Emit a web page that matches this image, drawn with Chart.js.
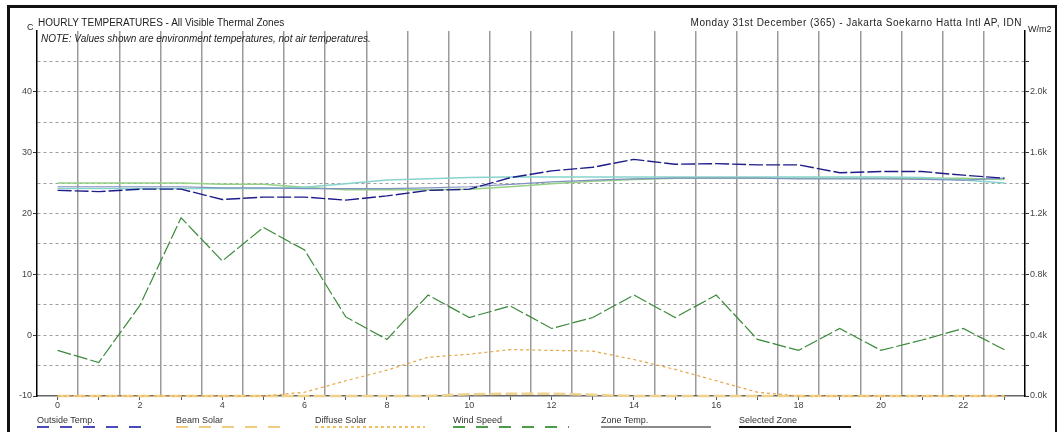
<!DOCTYPE html>
<html>
<head>
<meta charset="utf-8">
<script src="https://cdn.jsdelivr.net/npm/chart.js@4.4.1/dist/chart.umd.min.js"></script>
<style>
  html, body { margin: 0; padding: 0; background: #fff; }
  #wrap { position: relative; width: 1062px; height: 432px; overflow: hidden; font-family: "Liberation Sans", Arial, sans-serif; }
  #chart { position: absolute; left: 0; top: 0; }
  .frame { position: absolute; left: 7px; top: 5px; width: 1050px; height: 460px; box-sizing: border-box;
           border-left: 3px solid #111; border-top: 3px solid #111; border-right: 2px solid #111; }
  .t { position: absolute; white-space: nowrap; color: #222; }
  #titleL { left: 38px; top: 17px; font-size: 10px; line-height: 12px; }
  #titleR { right: 40px; top: 17px; font-size: 10px; line-height: 12px; letter-spacing: 0.5px; }
  #unitL { left: 27px; top: 22px; font-size: 9px; line-height: 11px; }
  #unitR { left: 1028px; top: 24px; font-size: 9px; line-height: 11px; }
  #note { left: 41px; top: 33px; font-size: 10px; line-height: 12px; font-style: italic; }
  .lg { position: absolute; top: 415px; font-size: 9px; line-height: 11px; color: #333; white-space: nowrap; }
  .lgline { position: absolute; top: 426px; height: 2px; }
</style>
</head>
<body>
<div id="wrap">
  <canvas id="chart" width="1062" height="432"></canvas>
  <div class="frame"></div>
  <div class="t" id="unitL">C</div>
  <div class="t" id="titleL">HOURLY TEMPERATURES - All Visible Thermal Zones</div>
  <div class="t" id="titleR">Monday 31st December (365) - Jakarta Soekarno Hatta Intl AP, IDN</div>
  <div class="t" id="unitR">W/m2</div>
  <div class="t" id="note">NOTE: Values shown are environment temperatures, not air temperatures.</div>
  <div id="legend"></div>
</div>
<script>
// Stundenwerte, 31. Dezember
const hours = [0, 1, 2, 3, 4, 5, 6, 7, 8, 9, 10, 11, 12, 13, 14, 15, 16, 17, 18, 19, 20, 21, 22, 23];
const gridHours = [0.5, 1.5, 2.5, 3.5, 4.5, 5.5, 6.5, 7.5, 8.5, 9.5, 10.5, 11.5, 12.5, 13.5, 14.5, 15.5, 16.5, 17.5, 18.5, 19.5, 20.5, 21.5, 22.5];

// Temperaturen (C)
const outsideTemp = [23.8, 23.6, 24.0, 24.0, 22.3, 22.7, 22.7, 22.2, 22.9, 23.8, 24.0, 25.9, 27.0, 27.6, 28.9, 28.1, 28.2, 28.0, 28.0, 26.7, 26.9, 26.9, 26.3, 25.8];
const zoneTempA = [25.0, 25.0, 25.0, 25.0, 24.8, 24.8, 24.3, 23.9, 23.9, 23.9, 24.0, 24.4, 24.9, 25.3, 25.6, 25.8, 25.8, 25.8, 25.8, 25.8, 25.8, 25.8, 25.8, 25.6];
const zoneTempB = [24.1, 24.1, 24.1, 24.1, 24.1, 24.1, 24.3, 24.9, 25.5, 25.7, 25.9, 26.0, 26.0, 26.0, 26.0, 26.0, 26.0, 26.0, 26.0, 26.0, 26.0, 25.9, 25.5, 25.0];
const zoneTempC = [24.4, 24.4, 24.4, 24.4, 24.2, 24.2, 24.1, 24.1, 24.1, 24.2, 24.4, 24.8, 25.2, 25.5, 25.7, 25.8, 25.8, 25.8, 25.7, 25.7, 25.7, 25.6, 25.5, 25.8];
const windSpeed = [-2.5, -4.5, 4.9, 19.3, 12.2, 17.7, 14.0, 3.0, -0.7, 6.6, 2.9, 4.8, 1.1, 2.9, 6.6, 2.9, 6.6, -0.7, -2.5, 1.1, -2.5, -0.8, 1.1, -2.4];

// Strahlung (W/m2)
const beamSolar = [0, 0, 0, 0, 0, 0, 0, 0, 0, 0, 12, 15, 15, 8, 0, 0, 0, 0, 0, 0, 0, 0, 0, 0];
const diffuseSolar = [0, 0, 0, 0, 0, 0, 25, 100, 170, 255, 275, 305, 300, 295, 240, 175, 100, 25, 0, 0, 0, 0, 0, 0];

// Achsen
const tempTicks = [-10, 0, 10, 20, 30, 40];
const solarTicks = [0, 400, 800, 1200, 1600, 2000];
const xLabelHours = [0, 2, 4, 6, 8, 10, 12, 14, 16, 18, 20, 22];

const legendItems = [
  { label: "Outside Temp.", left: 37, width: 108, bg: "repeating-linear-gradient(90deg,#4a4ab8 0 12px,transparent 12px 23px)" },
  { label: "Beam Solar", left: 176, width: 108, bg: "repeating-linear-gradient(90deg,#f0cc80 0 12px,transparent 12px 23px)" },
  { label: "Diffuse Solar", left: 315, width: 110, bg: "repeating-linear-gradient(90deg,#f0c060 0 3px,transparent 3px 6px)" },
  { label: "Wind Speed", left: 453, width: 116, bg: "repeating-linear-gradient(90deg,#4c9c4c 0 12px,transparent 12px 23px)" },
  { label: "Zone Temp.", left: 601, width: 110, bg: "#8a8a8a" },
  { label: "Selected Zone", left: 739, width: 112, bg: "#111" }
];

const legend = document.getElementById("legend");
legendItems.forEach(it => {
  const t = document.createElement("div");
  t.className = "lg";
  t.style.left = it.left + "px";
  t.textContent = it.label;
  legend.appendChild(t);
  const l = document.createElement("div");
  l.className = "lgline";
  l.style.left = it.left + "px";
  l.style.width = it.width + "px";
  l.style.background = it.bg;
  legend.appendChild(l);
});

const pts = arr => hours.map((h, i) => ({ x: h, y: arr[i] }));
const tickFont = { family: "Liberation Sans", size: 9 };
const clear = "rgba(0,0,0,0)";

function initChart() {
  const ctx = document.getElementById("chart");
  if (!window.Chart) {
    console.warn("Chart.js nicht geladen");
    return;
  }

  new Chart(ctx, {
    type: "line",
    data: {
      datasets: [
        { label: "Outside Temp.", data: pts(outsideTemp), yAxisID: "y", borderColor: "#1c1c8a", borderWidth: 1.4, borderDash: [14, 3] },
        { label: "Wind Speed", data: pts(windSpeed), yAxisID: "y", borderColor: "#3a8a3a", borderWidth: 1.2, borderDash: [14, 3] },
        { label: "Diffuse Solar", data: pts(diffuseSolar), yAxisID: "y2", borderColor: "#e8a444", borderWidth: 1.2, borderDash: [3, 3], clip: 6 },
        { label: "Beam Solar", data: pts(beamSolar), yAxisID: "y2", borderColor: "#f0d28c", borderWidth: 2.5, borderDash: [12, 4], clip: 6 },
        { label: "Zone C", data: pts(zoneTempC), yAxisID: "y", borderColor: "#8090c0", borderWidth: 1.2 },
        { label: "Zone B", data: pts(zoneTempB), yAxisID: "y", borderColor: "#86d4cc", borderWidth: 1.5 },
        { label: "Zone A", data: pts(zoneTempA), yAxisID: "y", borderColor: "#96d084", borderWidth: 1.5 }
      ]
    },
    options: {
      responsive: false,
      animation: false,
      devicePixelRatio: 1,
      layout: { padding: { top: 31, left: 0, right: 0, bottom: 0 } },
      elements: { point: { radius: 0 }, line: { tension: 0, fill: false } },
      plugins: { legend: { display: false }, tooltip: { enabled: false } },
      scales: {
        x: {
          type: "linear", min: -0.5, max: 23.5, position: "bottom",
          afterBuildTicks: s => { s.ticks = hours.map(h => ({ value: h })); },
          afterFit: s => { s.height = 36; },
          ticks: {
            autoSkip: false, maxRotation: 0, padding: 0, font: tickFont, color: "#444",
            callback: v => xLabelHours.includes(v) ? String(v) : ""
          },
          grid: { drawOnChartArea: false, tickLength: 4, tickColor: "#555", tickWidth: 1 },
          border: { color: "#666", width: 1.5 }
        },
        xg: {
          type: "linear", min: -0.5, max: 23.5, position: "bottom",
          afterBuildTicks: s => { s.ticks = gridHours.map(h => ({ value: h })); },
          afterFit: s => { s.height = 0; },
          ticks: { display: false },
          grid: { color: "#9a9a9a", lineWidth: 1.5, drawTicks: false },
          border: { display: false }
        },
        y: {
          min: -10, max: 50, position: "left",
          afterFit: s => { s.width = 37; },
          ticks: {
            stepSize: 5, autoSkip: false, padding: 1, font: tickFont, color: "#444",
            callback: v => tempTicks.includes(v) ? String(v) : ""
          },
          grid: {
            color: c => (c.tick && (c.tick.value === 50 || c.tick.value === -10)) ? clear : "#9c9c9c",
            lineWidth: 1, tickLength: 4, tickBorderDash: [],
            tickColor: c => (c.tick && tempTicks.includes(c.tick.value)) ? "#333" : clear
          },
          border: { color: "#000", width: 1.5, dash: [3, 3] }
        },
        y2: {
          min: 0, max: 2400, position: "right",
          afterFit: s => { s.width = 37; },
          ticks: {
            stepSize: 200, autoSkip: false, padding: 1, font: tickFont, color: "#444",
            callback: v => solarTicks.includes(v) ? (v / 1000).toFixed(1) + "k" : ""
          },
          grid: {
            drawOnChartArea: false, tickLength: 4, tickBorderDash: [],
            tickColor: c => (c.tick && c.tick.value < 2400) ? "#333" : clear
          },
          border: { color: "#000", width: 1.5 }
        }
      }
    }
  });
}

initChart();
</script>
</body>
</html>
